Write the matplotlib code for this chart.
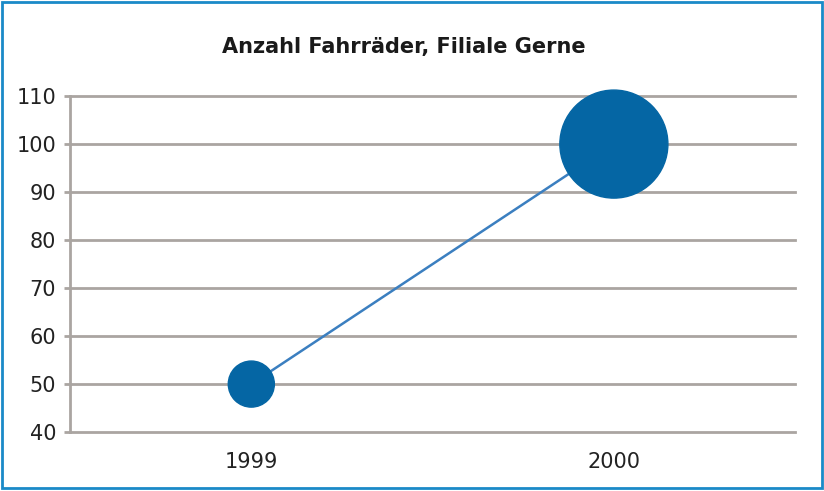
import matplotlib
matplotlib.use("Agg")
from matplotlib import pyplot as plt
from matplotlib.patches import Rectangle

years = ["1999", "2000"]
bikes = [50, 100]
bubble_sizes = [10, 55]

plt.rcParams['font.family'] = ['Liberation Sans Narrow', 'DejaVu Sans']

fig = plt.figure(figsize=(8.24, 4.91), dpi=100)
ax = fig.add_axes([0.085, 0.12, 0.88, 0.6843])

xs = list(range(len(years)))
ax.plot(xs, bikes, color="#3b7fc0", linewidth=1.8, zorder=2)
ax.scatter(xs, bikes, s=[b * 110 for b in bubble_sizes], color="#0566a4", zorder=3, clip_on=False)

ax.set_xlim(-0.5, 1.5)
ax.set_ylim(40, 110)
ax.set_yticks(range(40, 111, 10))
ax.set_xticks(xs)
ax.set_xticklabels(years)
ax.grid(axis="y", color="#aaa5a1", linewidth=2)
for line in ax.get_ygridlines():
    line.set_clip_on(False)
ax.set_axisbelow(True)
for s in ["top", "right", "bottom"]:
    ax.spines[s].set_visible(False)
ax.spines["left"].set_color("#aaa5a1")
ax.spines["left"].set_linewidth(2)
ax.tick_params(axis="y", length=4, width=2, color="#aaa5a1", labelsize=15, pad=6, labelcolor="#222222")
ax.tick_params(axis="x", length=0, labelsize=15, pad=14, labelcolor="#222222")

fig.text(0.49, 0.905, "Anzahl Fahrräder, Filiale Gerne", ha="center", va="center",
         fontsize=15, fontweight="bold", color="#1a1a1a")

fig.patches.append(Rectangle((0.002, 0.006), 0.996, 0.99, transform=fig.transFigure,
                             fill=False, edgecolor="#1a8ac8", linewidth=2))

fig.savefig("out.png", dpi=100)
